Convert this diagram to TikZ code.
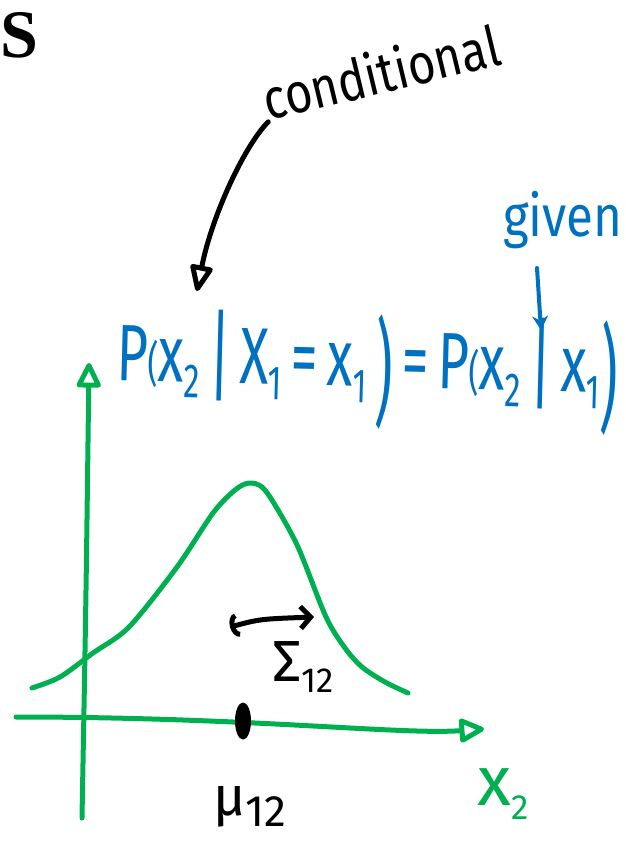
\documentclass[tikz,border=0pt]{standalone}
\usepackage{graphicx}
\usepackage{fontspec}
\setmainfont{Fira Sans}
\newfontfamily\printfont{Liberation Serif}
\usetikzlibrary{arrows.meta, positioning, shapes.geometric}
\definecolor{penblue}{RGB}{0,112,192}
\definecolor{pengreen}{RGB}{0,176,80}
\newcommand\lowidx[2][0.55]{\raisebox{-0.2em}{\scalebox{#1}{#2}}}
\newcommand\tallclose{\raisebox{-0.32em}{\scalebox{1}[1.45]{)}}}
\newcommand\tallbar{\raisebox{-0.1em}{\scalebox{1}[1.25]{|}}}
\newcommand\smallopen{\scalebox{0.6}{(}}
\begin{document}
\begin{tikzpicture}[x=1pt, y=-1pt,
    ink/.style={line width=5pt, line cap=round, line join=round},
    axis/.style={ink, draw=pengreen, -{Triangle[open, round, length=28pt, width=26pt]}},
    hand/.style={inner sep=0pt, font=\fontsize{#1}{#1}\selectfont},
    hand/.default=50]
  \useasboundingbox (0,0) rectangle (625,860);
  % letter at the top
  \node[inner sep=0pt, anchor=base west, font=\printfont\bfseries\fontsize{68}{68}\selectfont] (head) at (0,57) {S};
  % note and its arrow
  \node[hand=47, anchor=base west, rotate=13.5] (cond) at (268,121) {\scalebox{1}[1.2]{conditional}};
  \coordinate (condtip) at (197,291);
  \draw[ink, -{Triangle[open, round, length=30pt, width=24pt]}] (cond.south west) .. controls (245,145) and (212,215) .. (condtip);
  % formula
  \node[hand=80, anchor=base west, text=penblue, rotate=-1.5] (eq) at (116,380)
    {\scalebox{0.67}[1]{P\smallopen x\lowidx[0.6]{2}\,\tallbar\,X\lowidx[0.6]{1}\,=\,x\lowidx[0.6]{1}\,\tallclose\,=\,P\smallopen x\lowidx[0.6]{2}\,\tallbar\,x\lowidx[0.6]{1}\tallclose}};
  \node[hand=58, anchor=base west, text=penblue] (given) at (503,236) {\scalebox{0.85}[1]{given}};
  \coordinate (givfrom) at (537,268);
  \coordinate (givto) at (541,330);
  \draw[ink, line width=4pt, draw=penblue, -{Stealth[length=14pt, width=16pt]}] (givfrom) -- (givto);
  % axes
  \coordinate (yfoot) at (82,818);
  \coordinate (ytop) at (89,363);
  \draw[axis] (yfoot) .. controls (86,600) .. (ytop);
  \coordinate (xfoot) at (16,717);
  \coordinate (xtip) at (484,729);
  \draw[axis] (xfoot) .. controls (250,717) and (400,735) .. (xtip);
  \node[hand=70, anchor=base west, text=pengreen] (xlbl) at (477,805) {x\lowidx[0.5]{2}};
  % density
  \draw[ink, draw=pengreen] plot[smooth] coordinates {(32,688) (60,677) (93,653) (129,627) (177,567) (213,513) (235,490) (249,483) (262,487) (275,505) (298,547) (326,617) (345,648) (362,667) (385,682) (408,693)};
  \node[ellipse, fill=black, inner sep=0pt, minimum width=16pt, minimum height=37pt] (mean) at (243,721) {};
  \node[hand=55, anchor=base] (meanlbl) at (250,815) {μ\lowidx[0.8]{12}};
  \coordinate (spreadL) at (230,627);
  \coordinate (spreadR) at (314,617);
  \draw[ink, {Arc Barb[length=8pt, width=24pt]}-{Straight Barb[length=10pt, width=22pt]}] (spreadL) .. controls (260,619) .. (spreadR);
  \node[hand=58, anchor=base west] (spreadlbl) at (272,681) {Σ\lowidx[0.6]{12}};
\end{tikzpicture}
\end{document}
